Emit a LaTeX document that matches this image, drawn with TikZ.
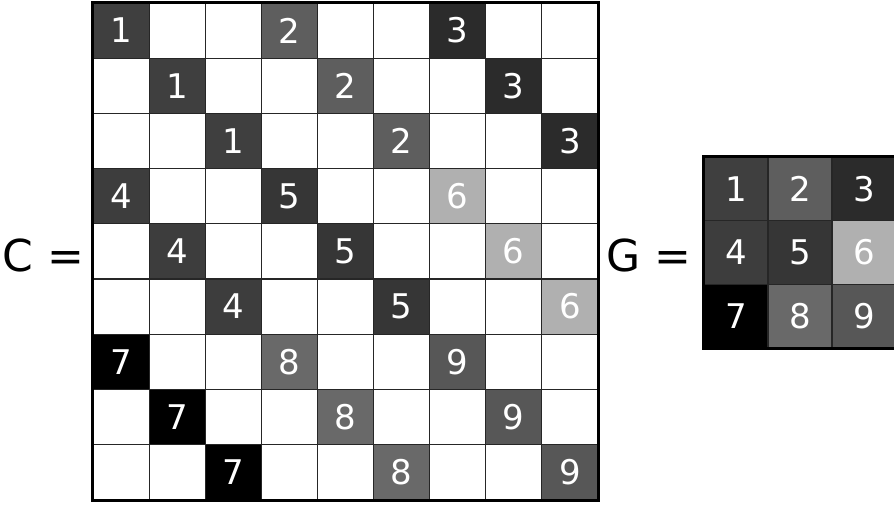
\documentclass[tikz,border=0pt]{standalone}
\usepackage{fontspec}
\setmainfont{DejaVu Sans}
\usetikzlibrary{positioning}
\definecolor{gone}{HTML}{3F3F3F}
\definecolor{gtwo}{HTML}{5E5E5E}
\definecolor{gthree}{HTML}{2B2B2B}
\definecolor{gfour}{HTML}{3D3D3D}
\definecolor{gfive}{HTML}{363636}
\definecolor{gsix}{HTML}{B0B0B0}
\definecolor{gseven}{HTML}{000000}
\definecolor{geight}{HTML}{696969}
\definecolor{gnine}{HTML}{575757}

\begin{document}
\begin{tikzpicture}[
  x=1pt, y=-1pt,
  bigcell/.style={
    rectangle, draw=black!85, line width=1.1pt, inner sep=0pt,
    minimum width=56.1pt, minimum height=55.2pt,
    text=white, font=\fontsize{34}{34}\selectfont
  },
  smallcell/.style={
    bigcell, minimum width=64pt, minimum height=63.7pt
  },
  lbl/.style={font=\fontsize{44}{44}\selectfont, inner sep=0pt},
  frame/.style={draw=black, line width=3pt},
]
\useasboundingbox (0,0) rectangle (894,506);

% shades of the nine entries
\def\shades{{"gone","gtwo","gthree","gfour","gfive","gsix","gseven","geight","gnine"}}

% matrix C
\foreach \r in {0,...,8}
  \foreach \c in {0,...,8}
    \node[bigcell, fill=white] (c-\r-\c) at ({93+(\c+0.5)*56.1},{3+(\r+0.5)*55.2}) {};
\foreach \br in {0,1,2}
  \foreach \bc in {0,1,2}
    \foreach \k in {0,1,2} {
      \pgfmathtruncatemacro{\n}{3*\br+\bc+1}
      \pgfmathtruncatemacro{\rr}{3*\br+\k}
      \pgfmathtruncatemacro{\cc}{3*\bc+\k}
      \pgfmathsetmacro{\col}{\shades[\n-1]}
      \node[bigcell, fill=\col] (c-\rr-\cc) at ({93+(\cc+0.5)*56.1},{3+(\rr+0.5)*55.2}) {\n};
    }
\draw[frame] (c-0-0.north west) rectangle (c-8-8.south east);

% matrix G
\foreach \r in {0,1,2}
  \foreach \c in {0,1,2} {
    \pgfmathtruncatemacro{\n}{3*\r+\c+1}
    \pgfmathsetmacro{\col}{\shades[\n-1]}
    \node[smallcell, fill=\col] (g-\r-\c) at ({704+(\c+0.5)*64},{157+(\r+0.5)*63.7}) {\n};
  }
\draw[frame] (g-0-0.north west) rectangle (g-2-2.south east);

% Labels
\node[lbl, left=8pt of c-4-0.west, yshift=-4pt] (ceq) {C =};
\node[lbl, left=12pt of g-1-0.west, yshift=-3pt] (geq) {G =};
\end{tikzpicture}
\end{document}
